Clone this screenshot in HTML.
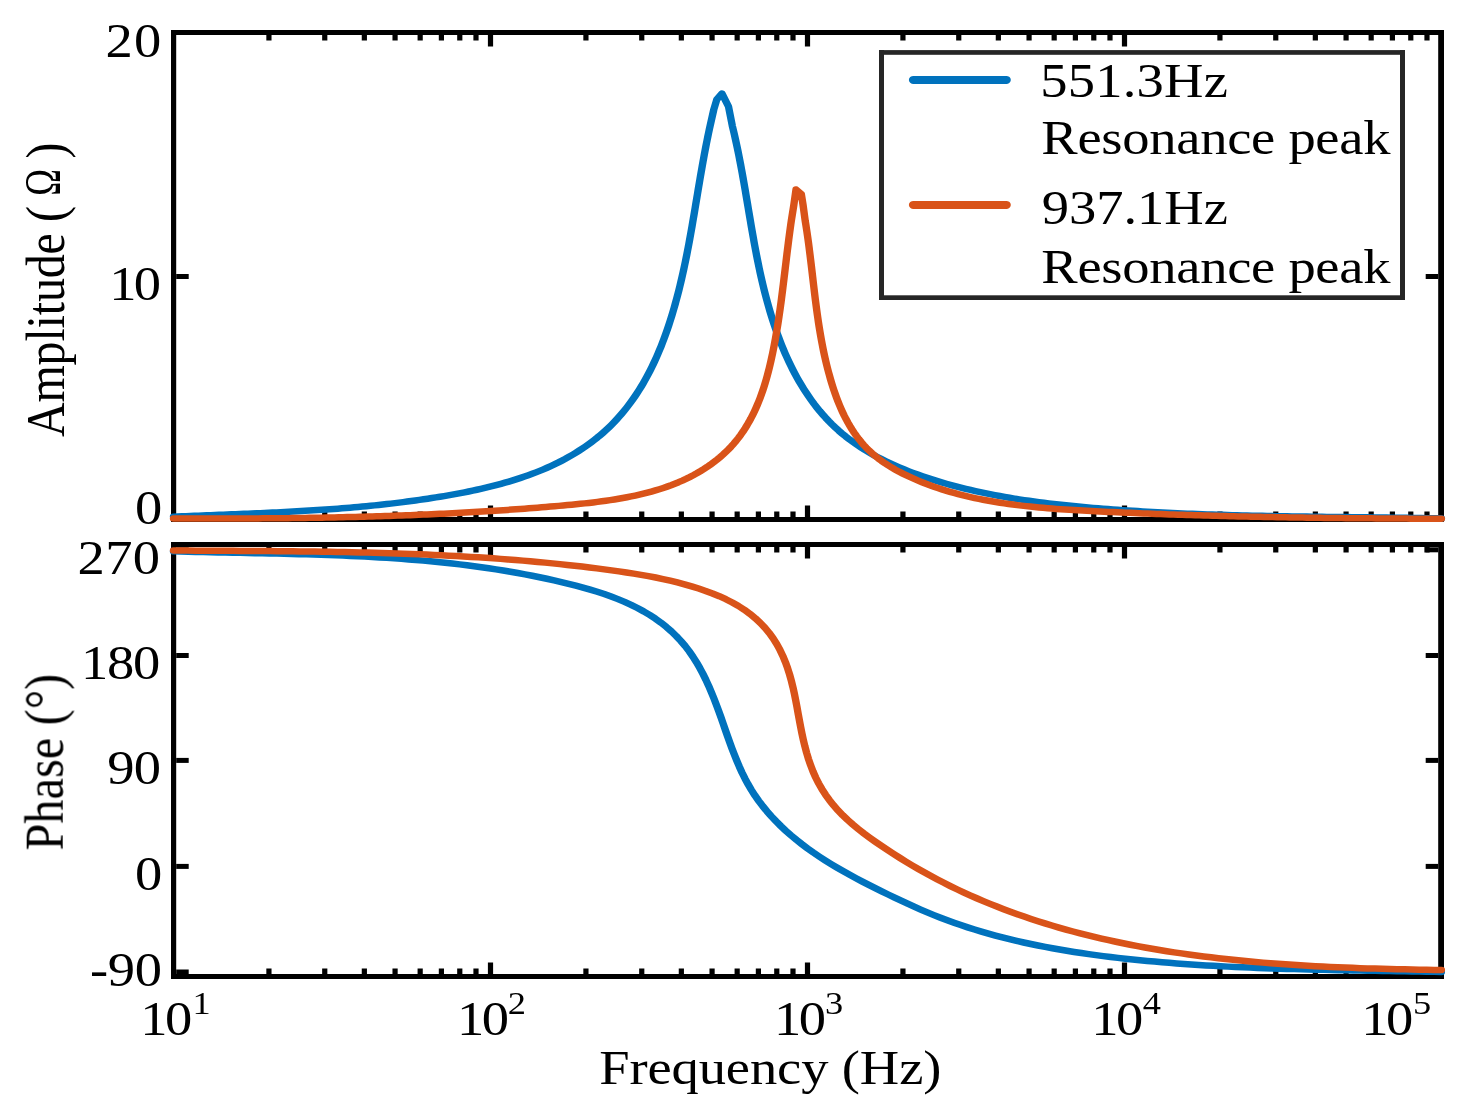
<!DOCTYPE html>
<html><head><meta charset="utf-8"><style>
html,body{margin:0;padding:0;background:#fff;}
svg{display:block;}
text{font-family:"Liberation Serif",serif;}
</style></head><body>
<svg width="1478" height="1104" viewBox="0 0 1478 1104">
<rect width="1478" height="1104" fill="#fff"/>
<rect x="171.00" y="30.00" width="1273.00" height="5.00" fill="#000"/>
<rect x="171.00" y="517.00" width="1273.00" height="5.00" fill="#000"/>
<rect x="171.00" y="30.00" width="5.20" height="492.00" fill="#000"/>
<rect x="1438.20" y="30.00" width="5.80" height="492.00" fill="#000"/>
<rect x="171.00" y="542.00" width="1273.00" height="5.00" fill="#000"/>
<rect x="171.00" y="974.00" width="1273.00" height="5.00" fill="#000"/>
<rect x="171.00" y="542.00" width="5.20" height="437.00" fill="#000"/>
<rect x="1438.20" y="542.00" width="5.80" height="437.00" fill="#000"/>
<rect x="266.33" y="35.00" width="5.20" height="5.50" fill="#000"/>
<rect x="266.33" y="511.50" width="5.20" height="5.50" fill="#000"/>
<rect x="266.33" y="547.00" width="5.20" height="5.50" fill="#000"/>
<rect x="266.33" y="968.50" width="5.20" height="5.50" fill="#000"/>
<rect x="322.15" y="35.00" width="5.20" height="5.50" fill="#000"/>
<rect x="322.15" y="511.50" width="5.20" height="5.50" fill="#000"/>
<rect x="322.15" y="547.00" width="5.20" height="5.50" fill="#000"/>
<rect x="322.15" y="968.50" width="5.20" height="5.50" fill="#000"/>
<rect x="361.75" y="35.00" width="5.20" height="5.50" fill="#000"/>
<rect x="361.75" y="511.50" width="5.20" height="5.50" fill="#000"/>
<rect x="361.75" y="547.00" width="5.20" height="5.50" fill="#000"/>
<rect x="361.75" y="968.50" width="5.20" height="5.50" fill="#000"/>
<rect x="392.47" y="35.00" width="5.20" height="5.50" fill="#000"/>
<rect x="392.47" y="511.50" width="5.20" height="5.50" fill="#000"/>
<rect x="392.47" y="547.00" width="5.20" height="5.50" fill="#000"/>
<rect x="392.47" y="968.50" width="5.20" height="5.50" fill="#000"/>
<rect x="417.57" y="35.00" width="5.20" height="5.50" fill="#000"/>
<rect x="417.57" y="511.50" width="5.20" height="5.50" fill="#000"/>
<rect x="417.57" y="547.00" width="5.20" height="5.50" fill="#000"/>
<rect x="417.57" y="968.50" width="5.20" height="5.50" fill="#000"/>
<rect x="438.80" y="35.00" width="5.20" height="5.50" fill="#000"/>
<rect x="438.80" y="511.50" width="5.20" height="5.50" fill="#000"/>
<rect x="438.80" y="547.00" width="5.20" height="5.50" fill="#000"/>
<rect x="438.80" y="968.50" width="5.20" height="5.50" fill="#000"/>
<rect x="457.18" y="35.00" width="5.20" height="5.50" fill="#000"/>
<rect x="457.18" y="511.50" width="5.20" height="5.50" fill="#000"/>
<rect x="457.18" y="547.00" width="5.20" height="5.50" fill="#000"/>
<rect x="457.18" y="968.50" width="5.20" height="5.50" fill="#000"/>
<rect x="473.39" y="35.00" width="5.20" height="5.50" fill="#000"/>
<rect x="473.39" y="511.50" width="5.20" height="5.50" fill="#000"/>
<rect x="473.39" y="547.00" width="5.20" height="5.50" fill="#000"/>
<rect x="473.39" y="968.50" width="5.20" height="5.50" fill="#000"/>
<rect x="487.90" y="35.00" width="5.20" height="11.50" fill="#000"/>
<rect x="487.90" y="505.50" width="5.20" height="11.50" fill="#000"/>
<rect x="487.90" y="547.00" width="5.20" height="11.50" fill="#000"/>
<rect x="487.90" y="962.50" width="5.20" height="11.50" fill="#000"/>
<rect x="583.33" y="35.00" width="5.20" height="5.50" fill="#000"/>
<rect x="583.33" y="511.50" width="5.20" height="5.50" fill="#000"/>
<rect x="583.33" y="547.00" width="5.20" height="5.50" fill="#000"/>
<rect x="583.33" y="968.50" width="5.20" height="5.50" fill="#000"/>
<rect x="639.15" y="35.00" width="5.20" height="5.50" fill="#000"/>
<rect x="639.15" y="511.50" width="5.20" height="5.50" fill="#000"/>
<rect x="639.15" y="547.00" width="5.20" height="5.50" fill="#000"/>
<rect x="639.15" y="968.50" width="5.20" height="5.50" fill="#000"/>
<rect x="678.75" y="35.00" width="5.20" height="5.50" fill="#000"/>
<rect x="678.75" y="511.50" width="5.20" height="5.50" fill="#000"/>
<rect x="678.75" y="547.00" width="5.20" height="5.50" fill="#000"/>
<rect x="678.75" y="968.50" width="5.20" height="5.50" fill="#000"/>
<rect x="709.47" y="35.00" width="5.20" height="5.50" fill="#000"/>
<rect x="709.47" y="511.50" width="5.20" height="5.50" fill="#000"/>
<rect x="709.47" y="547.00" width="5.20" height="5.50" fill="#000"/>
<rect x="709.47" y="968.50" width="5.20" height="5.50" fill="#000"/>
<rect x="734.57" y="35.00" width="5.20" height="5.50" fill="#000"/>
<rect x="734.57" y="511.50" width="5.20" height="5.50" fill="#000"/>
<rect x="734.57" y="547.00" width="5.20" height="5.50" fill="#000"/>
<rect x="734.57" y="968.50" width="5.20" height="5.50" fill="#000"/>
<rect x="755.80" y="35.00" width="5.20" height="5.50" fill="#000"/>
<rect x="755.80" y="511.50" width="5.20" height="5.50" fill="#000"/>
<rect x="755.80" y="547.00" width="5.20" height="5.50" fill="#000"/>
<rect x="755.80" y="968.50" width="5.20" height="5.50" fill="#000"/>
<rect x="774.18" y="35.00" width="5.20" height="5.50" fill="#000"/>
<rect x="774.18" y="511.50" width="5.20" height="5.50" fill="#000"/>
<rect x="774.18" y="547.00" width="5.20" height="5.50" fill="#000"/>
<rect x="774.18" y="968.50" width="5.20" height="5.50" fill="#000"/>
<rect x="790.39" y="35.00" width="5.20" height="5.50" fill="#000"/>
<rect x="790.39" y="511.50" width="5.20" height="5.50" fill="#000"/>
<rect x="790.39" y="547.00" width="5.20" height="5.50" fill="#000"/>
<rect x="790.39" y="968.50" width="5.20" height="5.50" fill="#000"/>
<rect x="804.90" y="35.00" width="5.20" height="11.50" fill="#000"/>
<rect x="804.90" y="505.50" width="5.20" height="11.50" fill="#000"/>
<rect x="804.90" y="547.00" width="5.20" height="11.50" fill="#000"/>
<rect x="804.90" y="962.50" width="5.20" height="11.50" fill="#000"/>
<rect x="900.33" y="35.00" width="5.20" height="5.50" fill="#000"/>
<rect x="900.33" y="511.50" width="5.20" height="5.50" fill="#000"/>
<rect x="900.33" y="547.00" width="5.20" height="5.50" fill="#000"/>
<rect x="900.33" y="968.50" width="5.20" height="5.50" fill="#000"/>
<rect x="956.15" y="35.00" width="5.20" height="5.50" fill="#000"/>
<rect x="956.15" y="511.50" width="5.20" height="5.50" fill="#000"/>
<rect x="956.15" y="547.00" width="5.20" height="5.50" fill="#000"/>
<rect x="956.15" y="968.50" width="5.20" height="5.50" fill="#000"/>
<rect x="995.75" y="35.00" width="5.20" height="5.50" fill="#000"/>
<rect x="995.75" y="511.50" width="5.20" height="5.50" fill="#000"/>
<rect x="995.75" y="547.00" width="5.20" height="5.50" fill="#000"/>
<rect x="995.75" y="968.50" width="5.20" height="5.50" fill="#000"/>
<rect x="1026.47" y="35.00" width="5.20" height="5.50" fill="#000"/>
<rect x="1026.47" y="511.50" width="5.20" height="5.50" fill="#000"/>
<rect x="1026.47" y="547.00" width="5.20" height="5.50" fill="#000"/>
<rect x="1026.47" y="968.50" width="5.20" height="5.50" fill="#000"/>
<rect x="1051.57" y="35.00" width="5.20" height="5.50" fill="#000"/>
<rect x="1051.57" y="511.50" width="5.20" height="5.50" fill="#000"/>
<rect x="1051.57" y="547.00" width="5.20" height="5.50" fill="#000"/>
<rect x="1051.57" y="968.50" width="5.20" height="5.50" fill="#000"/>
<rect x="1072.80" y="35.00" width="5.20" height="5.50" fill="#000"/>
<rect x="1072.80" y="511.50" width="5.20" height="5.50" fill="#000"/>
<rect x="1072.80" y="547.00" width="5.20" height="5.50" fill="#000"/>
<rect x="1072.80" y="968.50" width="5.20" height="5.50" fill="#000"/>
<rect x="1091.18" y="35.00" width="5.20" height="5.50" fill="#000"/>
<rect x="1091.18" y="511.50" width="5.20" height="5.50" fill="#000"/>
<rect x="1091.18" y="547.00" width="5.20" height="5.50" fill="#000"/>
<rect x="1091.18" y="968.50" width="5.20" height="5.50" fill="#000"/>
<rect x="1107.39" y="35.00" width="5.20" height="5.50" fill="#000"/>
<rect x="1107.39" y="511.50" width="5.20" height="5.50" fill="#000"/>
<rect x="1107.39" y="547.00" width="5.20" height="5.50" fill="#000"/>
<rect x="1107.39" y="968.50" width="5.20" height="5.50" fill="#000"/>
<rect x="1121.90" y="35.00" width="5.20" height="11.50" fill="#000"/>
<rect x="1121.90" y="505.50" width="5.20" height="11.50" fill="#000"/>
<rect x="1121.90" y="547.00" width="5.20" height="11.50" fill="#000"/>
<rect x="1121.90" y="962.50" width="5.20" height="11.50" fill="#000"/>
<rect x="1217.33" y="35.00" width="5.20" height="5.50" fill="#000"/>
<rect x="1217.33" y="511.50" width="5.20" height="5.50" fill="#000"/>
<rect x="1217.33" y="547.00" width="5.20" height="5.50" fill="#000"/>
<rect x="1217.33" y="968.50" width="5.20" height="5.50" fill="#000"/>
<rect x="1273.15" y="35.00" width="5.20" height="5.50" fill="#000"/>
<rect x="1273.15" y="511.50" width="5.20" height="5.50" fill="#000"/>
<rect x="1273.15" y="547.00" width="5.20" height="5.50" fill="#000"/>
<rect x="1273.15" y="968.50" width="5.20" height="5.50" fill="#000"/>
<rect x="1312.75" y="35.00" width="5.20" height="5.50" fill="#000"/>
<rect x="1312.75" y="511.50" width="5.20" height="5.50" fill="#000"/>
<rect x="1312.75" y="547.00" width="5.20" height="5.50" fill="#000"/>
<rect x="1312.75" y="968.50" width="5.20" height="5.50" fill="#000"/>
<rect x="1343.47" y="35.00" width="5.20" height="5.50" fill="#000"/>
<rect x="1343.47" y="511.50" width="5.20" height="5.50" fill="#000"/>
<rect x="1343.47" y="547.00" width="5.20" height="5.50" fill="#000"/>
<rect x="1343.47" y="968.50" width="5.20" height="5.50" fill="#000"/>
<rect x="1368.57" y="35.00" width="5.20" height="5.50" fill="#000"/>
<rect x="1368.57" y="511.50" width="5.20" height="5.50" fill="#000"/>
<rect x="1368.57" y="547.00" width="5.20" height="5.50" fill="#000"/>
<rect x="1368.57" y="968.50" width="5.20" height="5.50" fill="#000"/>
<rect x="1389.80" y="35.00" width="5.20" height="5.50" fill="#000"/>
<rect x="1389.80" y="511.50" width="5.20" height="5.50" fill="#000"/>
<rect x="1389.80" y="547.00" width="5.20" height="5.50" fill="#000"/>
<rect x="1389.80" y="968.50" width="5.20" height="5.50" fill="#000"/>
<rect x="1408.18" y="35.00" width="5.20" height="5.50" fill="#000"/>
<rect x="1408.18" y="511.50" width="5.20" height="5.50" fill="#000"/>
<rect x="1408.18" y="547.00" width="5.20" height="5.50" fill="#000"/>
<rect x="1408.18" y="968.50" width="5.20" height="5.50" fill="#000"/>
<rect x="1424.39" y="35.00" width="5.20" height="5.50" fill="#000"/>
<rect x="1424.39" y="511.50" width="5.20" height="5.50" fill="#000"/>
<rect x="1424.39" y="547.00" width="5.20" height="5.50" fill="#000"/>
<rect x="1424.39" y="968.50" width="5.20" height="5.50" fill="#000"/>
<rect x="176.20" y="274.00" width="12.50" height="5.00" fill="#000"/>
<rect x="1425.70" y="274.00" width="12.50" height="5.00" fill="#000"/>
<rect x="176.20" y="653.00" width="12.50" height="5.00" fill="#000"/>
<rect x="1425.70" y="653.00" width="12.50" height="5.00" fill="#000"/>
<rect x="176.20" y="757.90" width="12.50" height="5.00" fill="#000"/>
<rect x="1425.70" y="757.90" width="12.50" height="5.00" fill="#000"/>
<rect x="176.20" y="863.90" width="12.50" height="5.00" fill="#000"/>
<rect x="1425.70" y="863.90" width="12.50" height="5.00" fill="#000"/>
<rect x="176.20" y="547.30" width="12.50" height="5.00" fill="#000"/>
<rect x="1425.70" y="547.30" width="12.50" height="5.00" fill="#000"/>
<rect x="176.20" y="969.50" width="12.50" height="5.00" fill="#000"/>
<rect x="1425.70" y="969.50" width="12.50" height="5.00" fill="#000"/>
<g transform="scale(1.1370,1)" fill="none" stroke-width="6.50" stroke-linecap="round" stroke-linejoin="round"><path d="M152.59,516.70 156.26,516.52 159.92,516.34 163.57,516.16 167.23,515.99 170.88,515.82 174.52,515.65 178.17,515.48 181.81,515.32 185.44,515.15 189.08,514.99 192.71,514.83 196.33,514.66 199.96,514.50 203.58,514.33 207.20,514.17 210.82,514.00 214.44,513.83 218.05,513.66 221.66,513.49 225.27,513.31 228.87,513.13 232.48,512.95 236.08,512.76 239.68,512.57 243.28,512.37 246.88,512.17 250.48,511.96 254.07,511.75 257.67,511.53 261.26,511.31 264.85,511.08 268.44,510.84 272.03,510.60 275.62,510.34 279.21,510.08 282.79,509.81 286.38,509.53 289.97,509.25 293.55,508.95 297.14,508.64 300.72,508.32 304.31,508.00 307.89,507.66 311.48,507.31 315.06,506.95 318.65,506.58 322.24,506.19 325.82,505.79 329.41,505.38 333.00,504.96 336.59,504.52 340.18,504.07 343.77,503.60 347.36,503.12 350.95,502.62 354.54,502.11 358.14,501.58 361.73,501.04 365.33,500.48 368.93,499.90 372.53,499.31 376.13,498.70 379.74,498.07 383.34,497.42 386.95,496.76 390.56,496.07 394.17,495.36 397.78,494.64 401.39,493.89 404.99,493.12 408.60,492.32 412.19,491.49 415.78,490.64 419.36,489.76 422.94,488.86 426.50,487.92 430.06,486.94 433.60,485.94 437.12,484.90 440.64,483.83 444.13,482.71 447.61,481.57 451.07,480.38 454.51,479.15 457.93,477.88 461.33,476.57 464.71,475.21 468.06,473.81 471.39,472.36 474.69,470.87 477.96,469.33 481.20,467.73 484.41,466.09 487.59,464.39 490.74,462.65 493.85,460.84 496.93,458.99 499.97,457.07 502.98,455.11 505.94,453.09 508.86,451.02 511.74,448.90 514.58,446.72 517.37,444.49 520.11,442.21 522.80,439.87 525.45,437.49 528.04,435.05 530.57,432.56 533.06,430.02 535.48,427.44 537.85,424.80 540.17,422.11 542.43,419.38 544.63,416.60 546.79,413.77 548.89,410.91 550.94,408.00 552.94,405.05 554.90,402.06 556.80,399.03 558.66,395.97 560.46,392.87 562.23,389.74 563.95,386.58 565.62,383.38 567.25,380.15 568.84,376.90 570.38,373.61 571.89,370.31 573.35,366.97 574.78,363.61 576.16,360.23 577.51,356.83 578.83,353.41 580.10,349.97 581.35,346.52 582.55,343.04 583.73,339.56 584.87,336.06 585.98,332.54 587.06,329.02 588.11,325.49 589.13,321.95 590.12,318.40 591.08,314.84 592.02,311.29 592.93,307.73 593.82,304.16 594.68,300.60 595.52,297.04 596.34,293.48 597.14,289.92 597.91,286.36 598.67,282.80 599.40,279.24 600.12,275.69 600.82,272.13 601.50,268.58 602.17,265.02 602.82,261.47 603.46,257.91 604.09,254.36 604.70,250.80 605.30,247.25 605.89,243.70 606.47,240.14 607.04,236.59 607.60,233.03 608.15,229.48 608.70,225.92 609.24,222.36 609.77,218.81 610.31,215.25 610.83,211.69 611.36,208.13 611.88,204.57 612.40,201.01 612.92,197.45 613.45,193.88 613.97,190.32 614.49,186.75 615.02,183.18 615.55,179.61 616.09,176.04 616.63,172.46 617.18,168.89 617.74,165.31 618.30,161.73 618.87,158.15 619.45,154.56 620.04,150.98 620.65,147.39 621.26,143.80 621.89,140.20 622.53,136.61 623.19,133.01 623.86,129.41 624.54,125.80 627.79,109.50 630.43,99.50 635.00,93.60 640.72,106.50 644.06,125.80 644.97,130.11 645.86,134.43 646.72,138.74 647.56,143.06 648.37,147.37 649.15,151.69 649.92,156.01 650.66,160.33 651.39,164.65 652.10,168.97 652.80,173.30 653.48,177.62 654.16,181.94 654.82,186.26 655.47,190.59 656.12,194.91 656.76,199.23 657.40,203.55 658.04,207.88 658.68,212.20 659.32,216.52 659.96,220.83 660.61,225.15 661.26,229.47 661.93,233.78 662.60,238.10 663.28,242.41 663.98,246.72 664.69,251.03 665.42,255.34 666.17,259.64 666.94,263.94 667.72,268.24 668.53,272.54 669.37,276.84 670.23,281.13 671.12,285.42 672.04,289.71 672.99,293.99 673.98,298.27 675.00,302.55 676.05,306.82 677.14,311.09 678.27,315.35 679.45,319.62 680.66,323.87 681.92,328.12 683.23,332.36 684.58,336.59 685.98,340.80 687.43,344.99 688.93,349.16 690.48,353.31 692.09,357.44 693.75,361.53 695.47,365.60 697.24,369.63 699.08,373.63 700.97,377.58 702.93,381.50 704.95,385.37 707.04,389.20 709.19,392.98 711.41,396.71 713.69,400.38 716.05,404.00 718.48,407.55 720.98,411.05 723.56,414.48 726.21,417.85 728.94,421.14 731.75,424.37 734.64,427.52 737.61,430.59 740.66,433.58 743.79,436.49 747.01,439.32 750.31,442.07 753.68,444.74 757.13,447.33 760.64,449.85 764.23,452.29 767.87,454.65 771.58,456.95 775.34,459.17 779.16,461.33 783.03,463.42 786.94,465.44 790.91,467.39 794.91,469.29 798.95,471.12 803.03,472.89 807.14,474.60 811.27,476.26 815.44,477.86 819.62,479.40 823.83,480.89 828.05,482.33 832.29,483.72 836.54,485.06 840.79,486.35 845.05,487.59 849.31,488.80 853.58,489.95 857.85,491.07 862.13,492.14 866.41,493.17 870.69,494.16 874.98,495.12 879.27,496.03 883.56,496.91 887.86,497.76 892.16,498.57 896.46,499.35 900.77,500.10 905.08,500.82 909.40,501.51 913.71,502.17 918.03,502.80 922.36,503.41 926.68,503.99 931.01,504.55 935.34,505.08 939.68,505.60 944.01,506.09 948.35,506.57 952.69,507.02 957.03,507.46 961.38,507.89 965.73,508.30 970.07,508.69 974.43,509.07 978.78,509.44 983.13,509.80 987.49,510.15 991.85,510.48 996.21,510.80 1000.57,511.11 1004.93,511.41 1009.30,511.70 1013.66,511.97 1018.03,512.24 1022.40,512.49 1026.77,512.74 1031.14,512.98 1035.51,513.20 1039.88,513.42 1044.26,513.63 1048.64,513.83 1053.01,514.02 1057.39,514.20 1061.77,514.38 1066.15,514.55 1070.53,514.71 1074.91,514.86 1079.29,515.01 1083.67,515.15 1088.06,515.28 1092.44,515.41 1096.83,515.53 1101.21,515.64 1105.60,515.75 1109.98,515.86 1114.37,515.96 1118.75,516.06 1123.14,516.15 1127.53,516.23 1131.92,516.32 1136.30,516.40 1140.69,516.47 1145.08,516.55 1149.46,516.62 1153.85,516.69 1158.24,516.75 1162.62,516.82 1167.01,516.88 1171.40,516.94 1175.78,517.00 1180.17,517.06 1184.55,517.11 1188.94,517.17 1193.32,517.23 1197.71,517.28 1202.09,517.34 1206.47,517.40 1210.85,517.46 1215.23,517.52 1219.61,517.58 1223.99,517.64 1228.37,517.70 1232.75,517.77 1237.12,517.84 1241.50,517.91 1245.87,517.98 1250.24,518.06 1254.62,518.14 1258.99,518.22 1263.35,518.31 1267.72,518.40" stroke="#0072BD"/><path d="M152.59,518.50 156.36,518.51 160.12,518.52 163.88,518.53 167.64,518.54 171.40,518.55 175.15,518.55 178.90,518.56 182.65,518.56 186.39,518.55 190.14,518.55 193.88,518.55 197.61,518.54 201.35,518.53 205.08,518.52 208.81,518.50 212.54,518.49 216.27,518.47 219.99,518.45 223.71,518.42 227.44,518.40 231.16,518.37 234.87,518.33 238.59,518.30 242.30,518.26 246.02,518.22 249.73,518.18 253.44,518.13 257.15,518.08 260.86,518.03 264.56,517.97 268.27,517.91 271.98,517.84 275.68,517.78 279.38,517.71 283.09,517.63 286.79,517.56 290.49,517.47 294.19,517.39 297.89,517.30 301.59,517.21 305.29,517.11 308.99,517.01 312.69,516.91 316.39,516.80 320.09,516.68 323.79,516.57 327.49,516.44 331.19,516.32 334.89,516.19 338.59,516.05 342.29,515.91 345.99,515.77 349.70,515.62 353.40,515.47 357.10,515.31 360.81,515.14 364.51,514.97 368.22,514.80 371.92,514.62 375.63,514.44 379.34,514.25 383.05,514.06 386.76,513.86 390.48,513.65 394.19,513.44 397.91,513.23 401.63,513.01 405.35,512.78 409.07,512.55 412.79,512.31 416.51,512.06 420.24,511.81 423.97,511.56 427.70,511.29 431.43,511.03 435.17,510.75 438.90,510.47 442.64,510.19 446.39,509.89 450.13,509.59 453.88,509.29 457.63,508.98 461.38,508.66 465.13,508.33 468.89,508.00 472.65,507.66 476.42,507.32 480.18,506.96 483.96,506.60 487.73,506.24 491.51,505.86 495.29,505.48 499.07,505.09 502.85,504.69 506.63,504.27 510.41,503.84 514.18,503.38 517.95,502.91 521.72,502.41 525.47,501.88 529.22,501.33 532.95,500.74 536.68,500.12 540.39,499.47 544.08,498.77 547.76,498.04 551.43,497.26 555.07,496.44 558.69,495.57 562.30,494.66 565.88,493.68 569.43,492.66 572.96,491.58 576.46,490.43 579.94,489.23 583.38,487.96 586.80,486.63 590.18,485.23 593.53,483.75 596.84,482.21 600.12,480.58 603.35,478.88 606.55,477.10 609.71,475.23 612.83,473.28 615.90,471.25 618.92,469.13 621.88,466.94 624.79,464.66 627.62,462.30 630.40,459.86 633.09,457.35 635.71,454.76 638.25,452.10 640.70,449.37 643.05,446.56 645.32,443.69 647.49,440.75 649.58,437.74 651.58,434.67 653.50,431.55 655.33,428.37 657.09,425.13 658.77,421.85 660.38,418.52 661.92,415.14 663.39,411.72 664.79,408.26 666.12,404.77 667.40,401.24 668.62,397.68 669.78,394.09 670.88,390.48 671.93,386.84 672.94,383.18 673.89,379.50 674.81,375.81 675.67,372.11 676.50,368.39 677.29,364.67 678.05,360.95 678.77,357.22 679.47,353.50 680.13,349.78 680.77,346.06 681.39,342.36 681.98,338.66 682.55,334.97 683.10,331.29 683.64,327.62 684.15,323.95 684.65,320.28 685.14,316.62 685.61,312.96 686.06,309.31 686.51,305.66 686.94,302.01 687.36,298.36 687.78,294.71 688.18,291.06 688.58,287.42 688.98,283.76 689.37,280.11 689.76,276.45 690.14,272.79 690.53,269.13 690.91,265.46 691.30,261.79 691.69,258.10 692.08,254.42 692.47,250.72 692.88,247.02 693.29,243.30 693.70,239.58 694.13,235.85 694.57,232.10 695.02,228.35 695.48,224.58 695.95,220.80 698.24,204.50 700.09,189.60 704.75,194.00 706.24,204.50 708.18,220.80 708.72,224.57 709.24,228.35 709.74,232.13 710.22,235.90 710.69,239.68 711.14,243.45 711.57,247.23 712.00,251.01 712.42,254.78 712.82,258.56 713.22,262.34 713.62,266.12 714.01,269.89 714.40,273.67 714.78,277.45 715.17,281.22 715.56,285.00 715.95,288.77 716.35,292.55 716.75,296.32 717.16,300.10 717.59,303.87 718.02,307.64 718.46,311.41 718.92,315.19 719.40,318.96 719.89,322.72 720.40,326.49 720.94,330.26 721.49,334.03 722.07,337.79 722.67,341.55 723.30,345.32 723.96,349.08 724.64,352.84 725.36,356.60 726.11,360.35 726.89,364.11 727.71,367.86 728.57,371.61 729.47,375.36 730.40,379.11 731.38,382.86 732.40,386.60 733.48,390.32 734.60,394.03 735.77,397.73 737.01,401.39 738.30,405.03 739.66,408.64 741.08,412.21 742.57,415.74 744.14,419.22 745.78,422.65 747.50,426.03 749.30,429.35 751.18,432.61 753.15,435.80 755.21,438.92 757.36,441.97 759.61,444.93 761.96,447.82 764.41,450.61 766.97,453.31 769.63,455.92 772.40,458.43 775.26,460.85 778.21,463.18 781.24,465.42 784.34,467.58 787.51,469.66 790.74,471.67 794.02,473.59 797.34,475.45 800.69,477.24 804.08,478.97 807.48,480.63 810.91,482.23 814.36,483.77 817.84,485.25 821.33,486.67 824.84,488.04 828.38,489.35 831.93,490.61 835.50,491.82 839.09,492.97 842.70,494.08 846.32,495.14 849.96,496.15 853.62,497.11 857.29,498.04 860.98,498.91 864.67,499.75 868.38,500.55 872.11,501.30 875.84,502.02 879.59,502.71 883.35,503.36 887.12,503.97 890.89,504.55 894.68,505.11 898.47,505.63 902.27,506.12 906.08,506.59 909.90,507.03 913.72,507.45 917.54,507.84 921.37,508.21 925.21,508.56 929.04,508.90 932.88,509.21 936.73,509.51 940.57,509.80 944.42,510.07 948.26,510.32 952.11,510.57 955.95,510.81 959.79,511.04 963.63,511.26 967.47,511.48 971.30,511.69 975.13,511.89 978.96,512.10 982.79,512.30 986.61,512.49 990.43,512.68 994.24,512.87 998.06,513.05 1001.87,513.23 1005.67,513.41 1009.48,513.58 1013.28,513.75 1017.08,513.91 1020.88,514.07 1024.68,514.23 1028.47,514.38 1032.27,514.53 1036.06,514.68 1039.85,514.82 1043.63,514.96 1047.42,515.09 1051.21,515.23 1054.99,515.35 1058.77,515.48 1062.55,515.60 1066.33,515.72 1070.11,515.84 1073.89,515.95 1077.67,516.06 1081.45,516.17 1085.22,516.28 1089.00,516.38 1092.77,516.48 1096.55,516.57 1100.32,516.67 1104.10,516.76 1107.88,516.85 1111.65,516.93 1115.43,517.02 1119.20,517.10 1122.98,517.17 1126.76,517.25 1130.53,517.32 1134.31,517.40 1138.09,517.46 1141.87,517.53 1145.65,517.60 1149.43,517.66 1153.22,517.72 1157.00,517.78 1160.79,517.83 1164.57,517.89 1168.36,517.94 1172.15,517.99 1175.94,518.04 1179.74,518.09 1183.53,518.13 1187.33,518.18 1191.13,518.22 1194.93,518.26 1198.74,518.30 1202.55,518.34 1206.36,518.37 1210.17,518.41 1213.98,518.44 1217.80,518.48 1221.62,518.51 1225.44,518.54 1229.27,518.56 1233.10,518.59 1236.93,518.62 1240.77,518.64 1244.61,518.67 1248.45,518.69 1252.30,518.72 1256.15,518.74 1260.00,518.76 1263.86,518.78 1267.73,518.80" stroke="#D95319"/><path d="M152.59,551.30 159.13,551.51 165.66,551.71 172.18,551.90 178.70,552.08 185.21,552.24 191.72,552.41 198.22,552.56 204.72,552.71 211.21,552.86 217.70,553.01 224.18,553.15 230.66,553.31 237.13,553.46 243.60,553.62 250.06,553.79 256.53,553.97 262.98,554.16 269.44,554.36 275.88,554.57 282.33,554.80 288.77,555.05 295.21,555.32 301.64,555.61 308.08,555.92 314.51,556.25 320.93,556.61 327.35,557.00 333.77,557.41 340.19,557.86 346.61,558.34 353.02,558.85 359.43,559.40 365.84,559.98 372.24,560.61 378.65,561.27 385.05,561.98 391.45,562.73 397.85,563.53 404.25,564.37 410.64,565.26 417.04,566.20 423.43,567.20 429.82,568.24 436.21,569.35 442.60,570.51 448.99,571.72 455.38,573.00 461.77,574.34 468.16,575.75 474.55,577.21 480.94,578.75 487.33,580.35 493.71,582.03 500.09,583.78 506.46,585.62 512.78,587.56 519.07,589.61 525.29,591.78 531.44,594.08 537.50,596.54 543.47,599.14 549.32,601.92 555.05,604.87 560.63,608.01 566.07,611.36 571.34,614.92 576.44,618.70 581.34,622.71 586.04,626.95 590.53,631.41 594.79,636.08 598.82,640.96 602.61,646.03 606.15,651.29 609.47,656.73 612.59,662.31 615.51,668.04 618.25,673.89 620.84,679.86 623.29,685.91 625.61,692.05 627.83,698.25 629.95,704.50 632.00,710.78 634.00,717.08 635.95,723.39 637.88,729.68 639.81,735.96 641.77,742.21 643.77,748.42 645.84,754.59 648.00,760.69 650.27,766.73 652.67,772.69 655.22,778.55 657.94,784.32 660.87,789.98 664.01,795.53 667.35,800.95 670.90,806.25 674.64,811.43 678.56,816.49 682.65,821.42 686.90,826.23 691.31,830.92 695.86,835.49 700.54,839.92 705.35,844.24 710.28,848.43 715.31,852.50 720.44,856.46 725.67,860.32 730.98,864.07 736.36,867.74 741.81,871.32 747.32,874.82 752.88,878.24 758.48,881.60 764.12,884.90 769.78,888.14 775.47,891.34 781.16,894.49 786.86,897.61 792.56,900.68 798.28,903.71 804.01,906.68 809.77,909.57 815.55,912.39 821.37,915.12 827.23,917.76 833.13,920.30 839.08,922.74 845.05,925.10 851.07,927.36 857.12,929.54 863.21,931.62 869.32,933.63 875.47,935.55 881.65,937.40 887.85,939.17 894.08,940.86 900.34,942.48 906.62,944.03 912.92,945.50 919.24,946.92 925.58,948.27 931.93,949.55 938.31,950.78 944.70,951.95 951.10,953.06 957.51,954.12 963.93,955.13 970.37,956.09 976.81,957.00 983.25,957.87 989.70,958.69 996.15,959.47 1002.61,960.22 1009.06,960.92 1015.51,961.60 1021.97,962.23 1028.42,962.84 1034.88,963.41 1041.33,963.95 1047.78,964.47 1054.24,964.95 1060.69,965.40 1067.15,965.83 1073.61,966.24 1080.06,966.62 1086.52,966.97 1092.98,967.31 1099.44,967.62 1105.89,967.91 1112.35,968.19 1118.81,968.44 1125.28,968.68 1131.74,968.91 1138.20,969.12 1144.66,969.31 1151.13,969.50 1157.59,969.67 1164.06,969.84 1170.53,969.99 1177.00,970.14 1183.47,970.28 1189.94,970.41 1196.41,970.54 1202.89,970.67 1209.37,970.79 1215.84,970.92 1222.32,971.04 1228.80,971.17 1235.28,971.29 1241.77,971.42 1248.25,971.56 1254.74,971.70 1261.23,971.84 1267.72,972.00" stroke="#0072BD"/><path d="M152.59,550.50 159.15,550.55 165.71,550.59 172.27,550.63 178.83,550.67 185.39,550.71 191.94,550.75 198.50,550.79 205.05,550.83 211.61,550.88 218.16,550.92 224.71,550.97 231.26,551.03 237.81,551.09 244.35,551.15 250.90,551.22 257.45,551.30 263.99,551.39 270.54,551.48 277.08,551.58 283.62,551.69 290.16,551.81 296.70,551.94 303.24,552.09 309.78,552.24 316.32,552.41 322.85,552.59 329.39,552.79 335.92,553.00 342.45,553.22 348.98,553.46 355.51,553.72 362.04,553.99 368.57,554.29 375.10,554.60 381.62,554.93 388.15,555.28 394.67,555.65 401.20,556.04 407.72,556.46 414.24,556.89 420.76,557.35 427.28,557.84 433.79,558.34 440.31,558.88 446.83,559.44 453.34,560.02 459.85,560.63 466.36,561.27 472.87,561.94 479.38,562.64 485.89,563.37 492.40,564.13 498.90,564.91 505.41,565.73 511.91,566.59 518.41,567.47 524.92,568.39 531.42,569.35 537.91,570.34 544.41,571.37 550.89,572.45 557.37,573.60 563.83,574.83 570.27,576.14 576.68,577.54 583.07,579.05 589.42,580.67 595.74,582.43 602.02,584.31 608.26,586.35 614.45,588.54 620.59,590.91 626.65,593.46 632.60,596.22 638.41,599.21 644.05,602.47 649.49,606.00 654.70,609.83 659.65,613.94 664.34,618.33 668.74,622.99 672.84,627.91 676.62,633.08 680.07,638.50 683.18,644.13 685.99,649.96 688.50,655.94 690.75,662.07 692.73,668.29 694.49,674.61 696.04,681.00 697.44,687.45 698.69,693.96 699.85,700.50 700.95,707.07 702.00,713.65 703.06,720.23 704.14,726.81 705.29,733.36 706.53,739.88 707.90,746.35 709.41,752.76 711.09,759.09 712.97,765.32 715.06,771.46 717.40,777.47 720.01,783.34 722.89,789.07 726.04,794.65 729.46,800.07 733.13,805.33 737.05,810.41 741.22,815.33 745.60,820.07 750.19,824.67 754.96,829.13 759.87,833.47 764.91,837.70 770.05,841.85 775.26,845.92 780.53,849.93 785.86,853.88 791.24,857.76 796.67,861.57 802.15,865.31 807.67,868.97 813.23,872.56 818.83,876.06 824.47,879.48 830.15,882.82 835.86,886.07 841.60,889.23 847.37,892.32 853.18,895.33 859.02,898.25 864.89,901.10 870.79,903.87 876.73,906.56 882.69,909.18 888.67,911.73 894.69,914.20 900.73,916.60 906.80,918.93 912.90,921.19 919.02,923.38 925.16,925.50 931.33,927.56 937.52,929.55 943.73,931.48 949.97,933.35 956.22,935.15 962.50,936.89 968.79,938.57 975.11,940.19 981.44,941.76 987.79,943.27 994.15,944.72 1000.54,946.12 1006.93,947.46 1013.35,948.75 1019.77,950.00 1026.21,951.19 1032.67,952.33 1039.13,953.42 1045.61,954.47 1052.10,955.47 1058.59,956.43 1065.10,957.34 1071.61,958.21 1078.14,959.04 1084.67,959.83 1091.20,960.58 1097.75,961.30 1104.29,961.97 1110.85,962.61 1117.40,963.21 1123.96,963.78 1130.53,964.32 1137.09,964.83 1143.66,965.30 1150.22,965.75 1156.79,966.17 1163.35,966.56 1169.92,966.92 1176.48,967.26 1183.03,967.58 1189.59,967.87 1196.14,968.14 1202.69,968.39 1209.23,968.62 1215.76,968.84 1222.29,969.03 1228.80,969.21 1235.32,969.37 1241.82,969.52 1248.31,969.66 1254.79,969.78 1261.26,969.89 1267.72,970.00" stroke="#D95319"/></g>
<rect x="879.00" y="50.10" width="526.00" height="4.70" fill="#262626"/>
<rect x="879.00" y="295.30" width="526.00" height="4.70" fill="#262626"/>
<rect x="879.00" y="50.10" width="5.00" height="249.90" fill="#262626"/>
<rect x="1400.00" y="50.10" width="5.00" height="249.90" fill="#262626"/>
<rect x="908.9" y="75.9" width="101.9" height="8" rx="4.5" ry="4" fill="#0072BD"/>
<rect x="908.9" y="200.9" width="101.9" height="8" rx="4.5" ry="4" fill="#D95319"/>
<g font-family="Liberation Serif" fill="#000" style="filter:grayscale(1)"><text transform="translate(105.50,56.50) scale(1.1370,1)" font-size="48.00" textLength="48.97">20</text><text transform="translate(109.20,300.20) scale(1.1370,1)" font-size="48.00" textLength="45.62">10</text><text transform="translate(134.92,524.00) scale(1.1370,1)" font-size="48.00" textLength="23.71">0</text><text transform="translate(77.50,573.50) scale(1.1370,1)" font-size="48.00" textLength="72.63">270</text><text transform="translate(80.90,678.50) scale(1.1370,1)" font-size="48.00" textLength="69.72">180</text><text transform="translate(107.34,784.40) scale(1.1370,1)" font-size="48.00" textLength="47.26">90</text><text transform="translate(134.92,890.20) scale(1.1370,1)" font-size="48.00" textLength="23.88">0</text><text transform="translate(89.97,985.50) scale(1.1370,1)" font-size="48.00" textLength="63.42">-90</text><text transform="translate(140.20,1035.40) scale(1.1370,1)" font-size="48.00" textLength="45.80">10</text><text transform="translate(192.50,1013.80) scale(1.1370,1)" font-size="32.00">1</text><text transform="translate(456.90,1035.40) scale(1.1370,1)" font-size="48.00" textLength="45.80">10</text><text transform="translate(507.70,1013.80) scale(1.1370,1)" font-size="32.00">2</text><text transform="translate(774.00,1035.40) scale(1.1370,1)" font-size="48.00" textLength="45.80">10</text><text transform="translate(825.06,1013.80) scale(1.1370,1)" font-size="32.00">3</text><text transform="translate(1091.20,1035.40) scale(1.1370,1)" font-size="48.00" textLength="45.80">10</text><text transform="translate(1142.69,1013.80) scale(1.1370,1)" font-size="32.00">4</text><text transform="translate(1361.20,1035.40) scale(1.1370,1)" font-size="48.00" textLength="45.80">10</text><text transform="translate(1412.89,1013.80) scale(1.1370,1)" font-size="32.00">5</text><text transform="translate(599.23,1083.80) scale(1.1370,1)" font-size="48.00" textLength="300.94">Frequency (Hz)</text><text transform="translate(1040.33,96.90) scale(1.1370,1)" font-size="48.00" textLength="164.99">551.3Hz</text><text transform="translate(1041.33,154.20) scale(1.1370,1)" font-size="48.00" textLength="307.10">Resonance peak</text><text transform="translate(1041.74,224.30) scale(1.1370,1)" font-size="48.00" textLength="163.74">937.1Hz</text><text transform="translate(1041.33,282.60) scale(1.1370,1)" font-size="48.00" textLength="307.10">Resonance peak</text><text transform="translate(63.80,437.07) scale(1.1370,1) rotate(-90)" font-size="48.00" textLength="203.93">Amplitude</text><text transform="translate(63.80,222.01) scale(1.1370,1) rotate(-90)" font-size="48.00">(</text><text transform="translate(63.80,158.45) scale(1.1370,1) rotate(-90)" font-size="48.00">)</text><text transform="translate(58.60,195.66) scale(1.1370,1) rotate(-90)" font-size="45" textLength="26.75" lengthAdjust="spacingAndGlyphs">Ω</text><text transform="translate(63.00,850.38) scale(1.1370,1) rotate(-90)" font-size="48.00" textLength="176.49">Phase (°)</text></g>
</svg></body></html>
